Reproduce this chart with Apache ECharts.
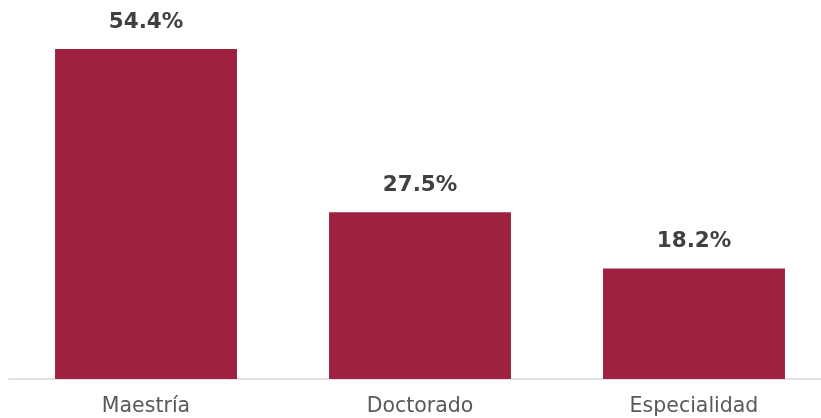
<!DOCTYPE html>
<html><head><meta charset="utf-8">
<script src="https://cdn.jsdelivr.net/npm/echarts@6/dist/echarts.min.js"></script>
<style>html,body{margin:0;padding:0;background:#fff;overflow:hidden;width:821px;height:418px}#c{width:831px;height:418px}</style>
</head><body><div id="c"></div>
<script>
const categories = ['Maestría', 'Doctorado', 'Especialidad'];
const values = [54.4, 27.5, 18.2];
const chart = echarts.init(document.getElementById('c'), null, {renderer: 'canvas'});
chart.setOption({
  animation: false,
  grid: {left: 9, right: 0, top: 49, bottom: 39, containLabel: false},
  xAxis: {
    type: 'category', data: categories,
    axisLine: {lineStyle: {color: '#d9d9d9', width: 1.5}},
    axisTick: {show: false},
    axisLabel: {color: '#595959', fontSize: 20.5, fontFamily: 'DejaVu Sans', margin: 17}
  },
  yAxis: {type: 'value', min: 0, max: 54.4, show: false, splitLine: {show: false}},
  series: [{
    type: 'bar', data: values, barWidth: '66.4%',
    itemStyle: {color: '#9e2140'},
    label: {show: true, position: 'top', distance: 16, formatter: p => p.value.toFixed(1) + '%',
      color: '#404040', fontSize: 21.5, fontWeight: 'bold', fontFamily: 'DejaVu Sans'}
  }]
});
</script></body></html>
